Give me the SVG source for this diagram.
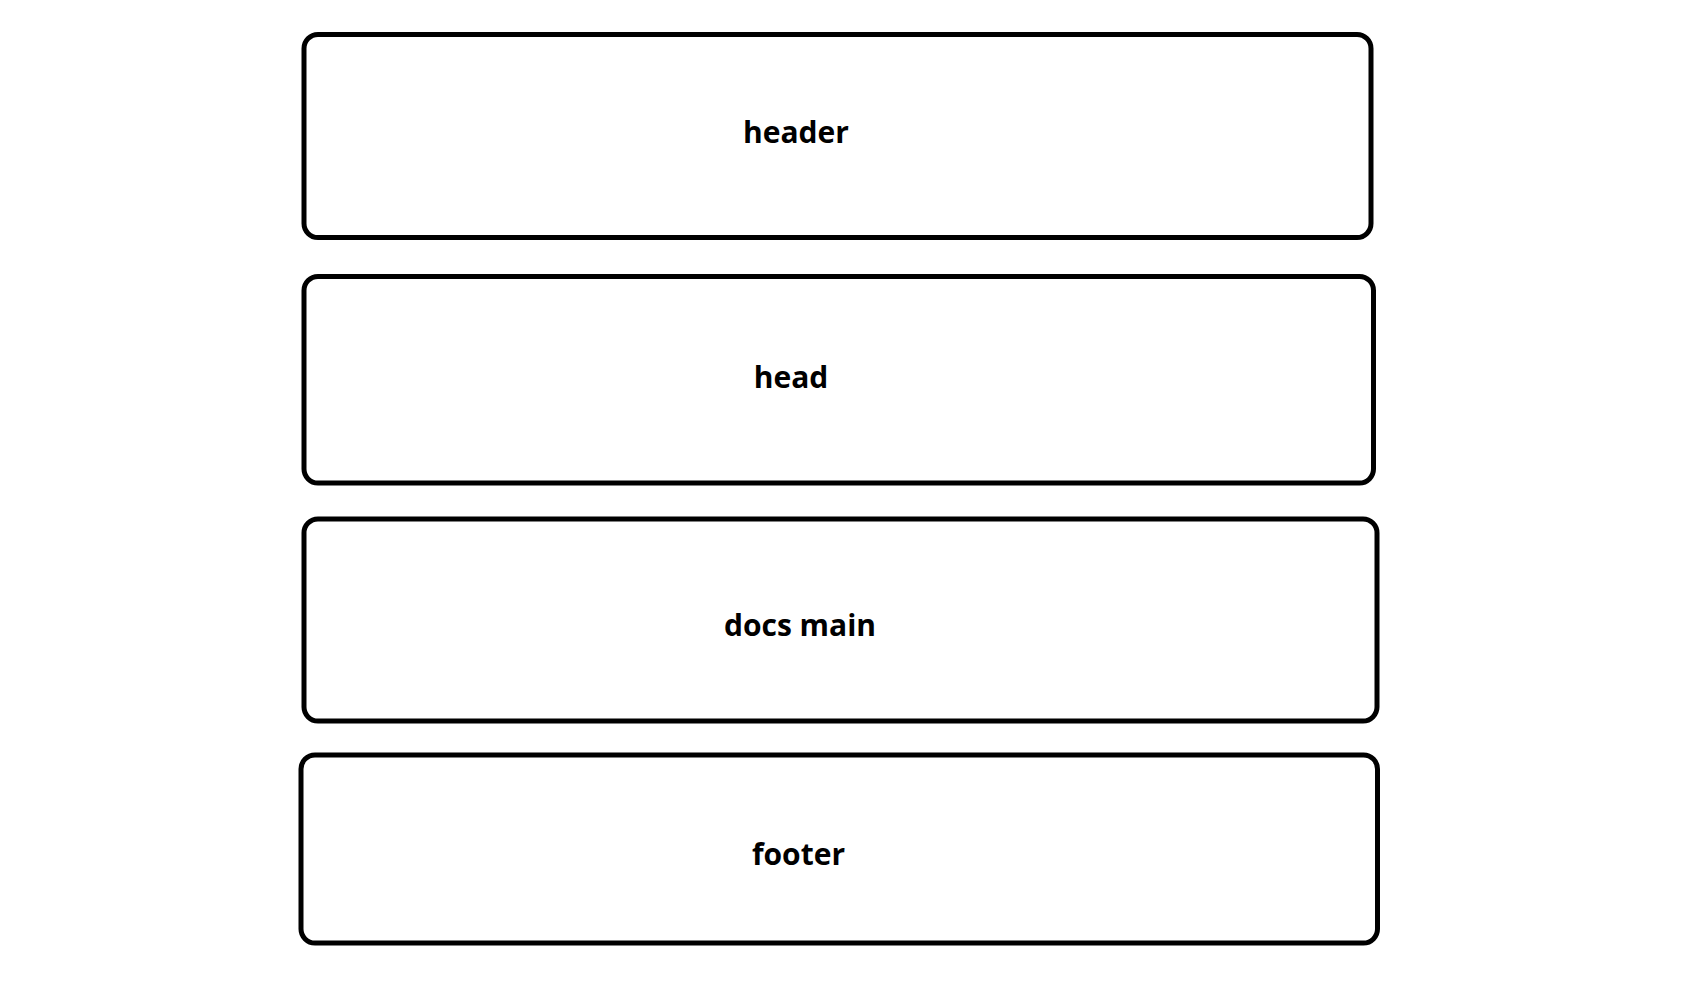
<svg xmlns="http://www.w3.org/2000/svg" width="1694" height="1006" viewBox="0 0 1694 1006">
<style>
.box{fill:#fff;stroke:#000;stroke-width:5}
.lbl{font-family:"Open Sans","Noto Sans",sans-serif;font-weight:bold;font-size:30px;fill:#000;text-anchor:middle}
</style>
<rect width="1694" height="1006" fill="#fff"/>
<g id="header"><rect class="box" x="304" y="34.5" width="1067" height="203" rx="14"/><text class="lbl" x="796" y="143">header</text></g>
<g id="head"><rect class="box" x="304" y="276.5" width="1069.5" height="206.5" rx="14"/><text class="lbl" x="791" y="388">head</text></g>
<g id="docs-main"><rect class="box" x="304" y="519" width="1073" height="202" rx="14"/><text class="lbl" x="800" y="636">docs main</text></g>
<g id="footer"><rect class="box" x="301" y="755" width="1076.5" height="188" rx="14"/><text class="lbl" x="798.5" y="865">footer</text></g>
<g id="connectors"/>
</svg>
